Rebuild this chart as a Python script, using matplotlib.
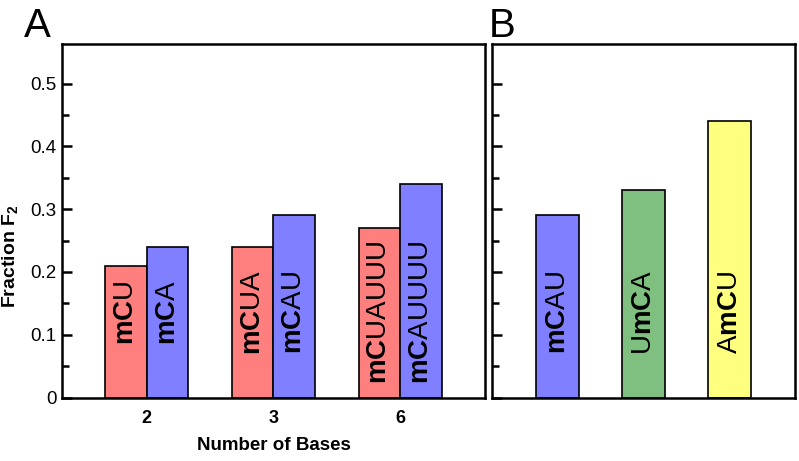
import matplotlib
matplotlib.use('Agg')
import matplotlib.pyplot as plt
from matplotlib.ticker import FixedLocator
import numpy as np

plt.rcParams['font.family'] = ['Liberation Sans', 'DejaVu Sans']
plt.rcParams['mathtext.fontset'] = 'custom'
plt.rcParams['mathtext.rm'] = 'Liberation Sans'
plt.rcParams['mathtext.bf'] = 'Liberation Sans:bold'
plt.rcParams['mathtext.it'] = 'Liberation Sans:italic'

# panel A data
bases = ['2', '3', '6']
mcu_labels = ['mC|U', 'mC|UA', 'mC|UAUUU']
mcu_values = [0.21, 0.24, 0.27]
mca_labels = ['mC|A', 'mC|AU', 'mC|AUUUU']
mca_values = [0.24, 0.29, 0.34]

# panel B data
b_labels = ['mC|AU', 'U|mC|A', 'A|mC|U']
b_values = [0.29, 0.33, 0.44]

red = '#ff7f7f'
blue = '#7f7fff'
b_colors = [blue, '#7fbf7f', '#ffff7f']


def fmt(lbl):
    # "mC" bold, rest regular
    parts = []
    for p in lbl.split('|'):
        if p == 'mC':
            parts.append(r'\mathbf{mC}')
        else:
            parts.append(r'\mathrm{%s}' % p)
    return '$' + ''.join(parts) + '$'


def style_axes(ax):
    for s in ax.spines.values():
        s.set_linewidth(1.8)
    ax.set_ylim(0, 0.563)
    ax.yaxis.set_major_locator(FixedLocator([0, 0.1, 0.2, 0.3, 0.4, 0.5]))
    ax.yaxis.set_minor_locator(FixedLocator([0.05, 0.15, 0.25, 0.35, 0.45]))
    ax.tick_params(axis='y', which='major', direction='in', length=7, width=1.8,
                   labelsize=13.5, pad=4)
    ax.tick_params(axis='y', which='minor', direction='in', length=5, width=1.8)
    ax.tick_params(axis='x', length=0, labelsize=13, pad=9)


fig = plt.figure(figsize=(7.99, 4.61), dpi=100)
ax1 = fig.add_axes([0.0776, 0.1377, 0.5294, 0.7669])
ax2 = fig.add_axes([0.6162, 0.1377, 0.3788, 0.7669])

x = np.arange(1, len(bases) + 1)
w = 0.33
ax1.bar(x - w / 2, mcu_values, w, color=red, edgecolor='black', linewidth=1.2)
ax1.bar(x + w / 2, mca_values, w, color=blue, edgecolor='black', linewidth=1.2)
for i in range(len(bases)):
    ax1.text(x[i] - w / 2, 0.135, fmt(mcu_labels[i]), rotation=90, ha='center',
             va='center', fontsize=20)
    ax1.text(x[i] + w / 2, 0.135, fmt(mca_labels[i]), rotation=90, ha='center',
             va='center', fontsize=20)
ax1.set_xlim(0.333, 3.667)
ax1.set_xticks(x)
ax1.set_xticklabels(bases, fontweight='bold')
style_axes(ax1)
ax1.set_yticklabels(['0', '0.1', '0.2', '0.3', '0.4', '0.5'])
ax1.set_xlabel('Number of Bases', fontsize=13.5, fontweight='bold', labelpad=7)
ax1.set_ylabel(r'$\mathbf{Fraction\ F_2}$', fontsize=14)
ax1.yaxis.set_label_coords(-0.10, 0.40)

xb = np.arange(1, len(b_labels) + 1)
ax2.bar(xb, b_values, 0.5, color=b_colors, edgecolor='black', linewidth=1.2)
for i in range(len(b_labels)):
    ax2.text(xb[i], 0.135, fmt(b_labels[i]), rotation=90, ha='center',
             va='center', fontsize=20)
ax2.set_xlim(0.242, 3.758)
ax2.set_xticks([])
style_axes(ax2)
ax2.set_yticklabels([])

fig.text(0.030, 0.92, 'A', fontsize=29)
fig.text(0.612, 0.92, 'B', fontsize=29)

fig.savefig('out.png', dpi=100)
